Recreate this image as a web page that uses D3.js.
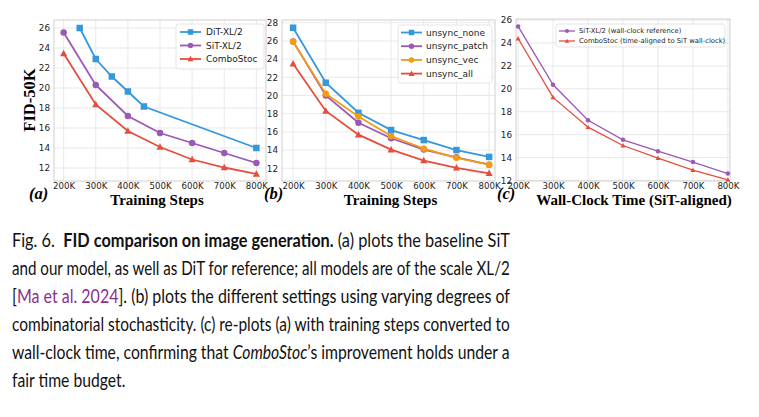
<!DOCTYPE html>
<html><head><meta charset="utf-8">
<script src="https://cdn.jsdelivr.net/npm/d3@7/dist/d3.min.js"></script>
<style>body{margin:0;background:#fff}svg{display:block}</style>
</head><body>
<svg id="c" width="759" height="417"></svg>
<script>
// ---- data ----
const steps = [200, 300, 400, 500, 600, 700, 800];
const xTickLabels = ["200K", "300K", "400K", "500K", "600K", "700K", "800K"];
const ditSteps = [250, 300, 350, 400, 450, 800];
const ditFID = [26.0, 22.9, 21.15, 19.65, 18.15, 14.0];
const sitFID = [25.55, 20.3, 17.2, 15.5, 14.5, 13.5, 12.5];
const comboFID = [23.45, 18.35, 15.7, 14.1, 12.85, 12.05, 11.4];
const unsyncNone = [27.45, 21.4, 18.1, 16.2, 15.1, 14.0, 13.25];
const unsyncPatch = [25.95, 20.0, 17.0, 15.3, 14.05, 13.2, 12.4];
const unsyncVec = [25.9, 20.2, 17.7, 15.55, 14.15, 13.15, 12.4];
const unsyncAll = [23.5, 18.3, 15.7, 14.05, 12.85, 12.05, 11.45];
const sitWall = [25.45, 20.35, 17.25, 15.55, 14.55, 13.6, 12.6];
const comboWall = [24.4, 19.25, 16.65, 15.05, 13.95, 12.9, 12.05];
const yTicksA = [12, 14, 16, 18, 20, 22, 24, 26];
const yTicksB = [12, 14, 16, 18, 20, 22, 24, 26, 28];
const yTicksC = [12, 14, 16, 18, 20, 22, 24, 26];

const BLUE = "#3498db", PURPLE = "#9b59b6", ORANGE = "#f39c12", RED = "#e74c3c";
const svg = d3.select("#c");
const tickFont = "DejaVu Sans, sans-serif";
const serif = "Liberation Serif, Times New Roman, serif";

function marker(g, type, x, y, s, color) {
  if (type === "square") {
    g.append("rect").attr("x", x - s / 2).attr("y", y - s / 2).attr("width", s).attr("height", s).attr("fill", color);
  } else if (type === "circle") {
    g.append("circle").attr("cx", x).attr("cy", y).attr("r", s / 2).attr("fill", color);
  } else {
    const h = s * 0.95;
    g.append("path").attr("d", `M${x},${y - h * 0.6}L${x + s * 0.55},${y + h * 0.45}L${x - s * 0.55},${y + h * 0.45}Z`).attr("fill", color);
  }
}

function panel(cfg) {
  const x = d3.scaleLinear().domain(cfg.xdom).range([cfg.left, cfg.right]);
  const y = d3.scaleLinear().domain(cfg.ydom).range([cfg.bottom, cfg.top]);
  const g = svg.append("g");
  // grid
  g.append("g").selectAll("line").data(steps).join("line")
    .attr("x1", d => x(d)).attr("x2", d => x(d)).attr("y1", cfg.top).attr("y2", cfg.bottom)
    .attr("stroke", "#e3e3e3").attr("stroke-width", 0.8);
  g.append("g").selectAll("line").data(cfg.yticks).join("line")
    .attr("y1", d => y(d)).attr("y2", d => y(d)).attr("x1", cfg.left).attr("x2", cfg.right)
    .attr("stroke", "#e3e3e3").attr("stroke-width", 0.8);
  // axes via d3 axis (labels only)
  const xa = d3.axisBottom(x).tickValues(steps).tickFormat((d, i) => xTickLabels[i]).tickSize(0).tickPadding(1.5);
  const gx = g.append("g").attr("transform", `translate(0,${cfg.bottom})`).call(xa);
  gx.select(".domain").remove();
  gx.selectAll("text").attr("font-family", tickFont).attr("font-size", 8.6).attr("fill", "#222");
  const ya = d3.axisLeft(y).tickValues(cfg.yticks).tickSize(0).tickPadding(4);
  const gy = g.append("g").attr("transform", `translate(${cfg.left},0)`).call(ya);
  gy.select(".domain").remove();
  gy.selectAll("text").attr("font-family", tickFont).attr("font-size", 8.8).attr("fill", "#222");
  // frame
  g.append("rect").attr("x", cfg.left).attr("y", cfg.top).attr("width", cfg.right - cfg.left).attr("height", cfg.bottom - cfg.top)
    .attr("fill", "none").attr("stroke", "#cfcfcf").attr("stroke-width", 1);
  // series
  cfg.series.forEach(s => {
    const pts = s.xs.map((xv, i) => [x(xv), y(s.ys[i])]);
    g.append("path").attr("d", d3.line()(pts)).attr("fill", "none").attr("stroke", s.color).attr("stroke-width", cfg.lw);
    const mg = g.append("g");
    pts.forEach(p => marker(mg, s.m, p[0], p[1], cfg.ms, s.color));
  });
  // legend
  const L = cfg.legend;
  g.append("rect").attr("x", L.x).attr("y", L.y).attr("width", L.w).attr("height", L.h).attr("rx", 2.5)
    .attr("fill", "white").attr("fill-opacity", 0.85).attr("stroke", "#dddddd").attr("stroke-width", 0.8);
  cfg.series.forEach((s, i) => {
    const yy = L.y0 + i * L.dy;
    g.append("line").attr("x1", L.hx).attr("x2", L.hx + L.hw).attr("y1", yy).attr("y2", yy).attr("stroke", s.color).attr("stroke-width", cfg.lw);
    marker(g, s.m, L.hx + L.hw / 2, yy, L.ms, s.color);
    g.append("text").attr("x", L.tx).attr("y", yy).attr("dy", "0.35em").attr("font-family", tickFont)
      .attr("font-size", L.fs).attr("fill", "#222").text(s.name);
  });
  // titles
  g.append("text").attr("x", (cfg.left + cfg.right) / 2 + cfg.titleDx).attr("y", 205).attr("text-anchor", "middle")
    .attr("font-family", serif).attr("font-weight", "bold").attr("font-size", 15).text(cfg.title);
  g.append("text").attr("x", cfg.labX).attr("y", 199).attr("font-family", serif).attr("font-weight", "bold")
    .attr("font-style", "italic").attr("font-size", 16.5).text(cfg.label);
  return g;
}

panel({
  left: 54, right: 266, top: 20, bottom: 181, xdom: [170, 830], ydom: [10.7, 26.8], yticks: yTicksA,
  lw: 1.8, ms: 6.5, title: "Training Steps", titleDx: -3, label: "(a)", labX: 29,
  series: [
    { name: "DiT-XL/2", xs: ditSteps, ys: ditFID, color: BLUE, m: "square" },
    { name: "SiT-XL/2", xs: steps, ys: sitFID, color: PURPLE, m: "circle" },
    { name: "ComboStoc", xs: steps, ys: comboFID, color: RED, m: "tri" }
  ],
  legend: { x: 176, y: 24, w: 88, h: 45, y0: 32, dy: 13.5, hx: 180, hw: 21, tx: 206, fs: 9, ms: 5.5 }
});
panel({
  left: 282, right: 495, top: 20, bottom: 181, xdom: [166, 818], ydom: [10.6, 28.3], yticks: yTicksB,
  lw: 1.8, ms: 6.5, title: "Training Steps", titleDx: 2, label: "(b)", labX: 264,
  series: [
    { name: "unsync_none", xs: steps, ys: unsyncNone, color: BLUE, m: "square" },
    { name: "unsync_patch", xs: steps, ys: unsyncPatch, color: PURPLE, m: "circle" },
    { name: "unsync_vec", xs: steps, ys: unsyncVec, color: ORANGE, m: "circle" },
    { name: "unsync_all", xs: steps, ys: unsyncAll, color: RED, m: "tri" }
  ],
  legend: { x: 398, y: 25, w: 94, h: 58, y0: 32.5, dy: 13.7, hx: 401, hw: 21, tx: 426, fs: 9, ms: 5.5 }
});
panel({
  left: 516, right: 730, top: 19, bottom: 181, xdom: [194, 806], ydom: [11.95, 26.1], yticks: yTicksC,
  lw: 1.3, ms: 4.5, title: "Wall-Clock Time (SiT-aligned)", titleDx: 11, label: "(c)", labX: 497,
  series: [
    { name: "SiT-XL/2 (wall-clock reference)", xs: steps, ys: sitWall, color: PURPLE, m: "circle" },
    { name: "ComboStoc (time-aligned to SiT wall-clock)", xs: steps, ys: comboWall, color: RED, m: "tri" }
  ],
  legend: { x: 556, y: 24, w: 169, h: 23, y0: 31, dy: 10, hx: 559, hw: 16, tx: 579, fs: 6.8, ms: 4 }
});

// y-axis title
svg.append("text").attr("transform", "translate(35,100) rotate(-90)").attr("text-anchor", "middle")
  .attr("font-family", serif).attr("font-weight", "bold").attr("font-size", 16.5).text("FID-50K");

// ---- caption ----
const capFont = "Lato, Open Sans, sans-serif";
const capLines = [
  [["Fig. 6.  ", ""], ["FID comparison on image generation.", "b"], [" (a) plots the baseline SiT", ""]],
  [["and our model, as well as DiT for reference; all models are of the scale XL/2", ""]],
  [["[", ""], ["Ma et al. 2024", "link"], ["]. (b) plots the different settings using varying degrees of", ""]],
  [["combinatorial stochasticity. (c) re-plots (a) with training steps converted to", ""]],
  [["wall-clock time, confirming that ", ""], ["ComboStoc", "i"], ["\u2019s improvement holds under a", ""]],
  [["fair time budget.", ""]]
];
const capX = 12, capW = 498, capY0 = 247, capDy = 28;
const scales = [];
capLines.forEach((segs, li) => {
  const gl = svg.append("g").attr("transform", `translate(${capX},${capY0 + li * capDy})`);
  const t = gl.append("text").attr("x", 0).attr("y", 0).attr("font-family", capFont).attr("font-size", 19.5).attr("fill", "#111")
    .attr("xml:space", "preserve").style("white-space", "pre");
  segs.forEach(([s, st]) => {
    const ts = t.append("tspan").text(s);
    if (st === "b") ts.attr("font-weight", "bold");
    if (st === "i") ts.attr("font-style", "italic");
    if (st === "link") ts.attr("fill", "#8a2f8f");
  });
  const w = t.node().getComputedTextLength();
  if (li < capLines.length - 1) {
    const sx = capW / w;
    scales.push(sx);
    gl.attr("transform", `translate(${capX},${capY0 + li * capDy}) scale(${sx},1)`);
  } else {
    const sx = d3.mean(scales);
    gl.attr("transform", `translate(${capX},${capY0 + li * capDy}) scale(${sx},1)`);
  }
});
</script>
</body></html>
